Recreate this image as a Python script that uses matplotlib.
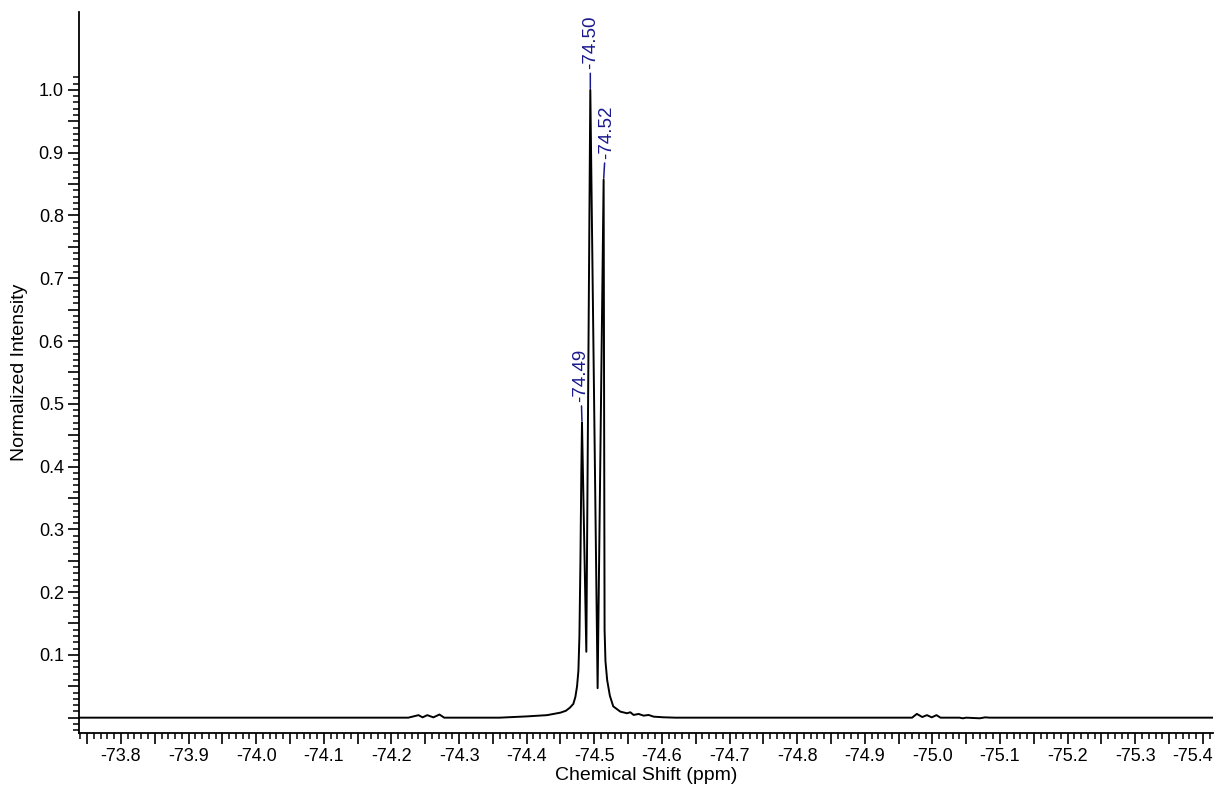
import numpy as np
import matplotlib
matplotlib.use("Agg")
import matplotlib.pyplot as plt
from matplotlib.ticker import MultipleLocator, FixedLocator, FuncFormatter

plt.rcParams['font.family'] = ['Liberation Sans', 'DejaVu Sans']

# === spectrum (ppm, normalized intensity) ===
ppm = [-73.73, -74.225, -74.240, -74.246, -74.253, -74.262, -74.271, -74.278,
       -74.36, -74.40, -74.43, -74.44, -74.450, -74.458, -74.464, -74.469,
       -74.472, -74.4745, -74.4765, -74.478, -74.4795, -74.4808, -74.4818,
       -74.4882, -74.4941, -74.5049, -74.5138, -74.5152, -74.5165, -74.519,
       -74.523, -74.528, -74.5385, -74.5484, -74.5533, -74.5581, -74.5655,
       -74.5729, -74.5803, -74.5877, -74.602, -74.62, -74.97, -74.977,
       -74.985, -74.992, -74.999, -75.006, -75.012, -75.04, -75.045, -75.05,
       -75.07, -75.078, -75.085, -75.42]
intensity = [0.0, 0.0, 0.004, 0.0005, 0.004, 0.0005, 0.005, 0.0,
             0.0, 0.002, 0.004, 0.006, 0.008, 0.011, 0.016, 0.022,
             0.033, 0.05, 0.075, 0.13, 0.25, 0.39, 0.47,
             0.105, 1.0, 0.047, 0.857, 0.14, 0.09, 0.06,
             0.035, 0.018, 0.0096, 0.007, 0.0086, 0.0043, 0.0059,
             0.0032, 0.0043, 0.0016, 0.0006, 0.0, 0.0, 0.006,
             0.001, 0.004, 0.0005, 0.004, 0.0, 0.0, -0.001, 0.0,
             -0.001, 0.0005, 0.0, 0.0]

# picked peaks
peak_labels = ['-74.49', '-74.50', '-74.52']
peak_ppm = [-74.4818, -74.4941, -74.5138]
peak_height = [0.47, 1.0, 0.857]
peak_dx = [-1, 0, 2]   # small sideways nudge of the label text (points)

label_color = '#1a1a8e'
last_tick = -75.4      # edge tick label, pulled inside like the original

fig = plt.figure(figsize=(12.18, 7.89), dpi=100)
ax = fig.add_axes([0.0649, 0.0710, 0.9310, 0.9138])

ax.plot(ppm, intensity, color='black', lw=1.4)

for lab, px, py, dx in zip(peak_labels, peak_ppm, peak_height, peak_dx):
    ax.annotate(lab, xy=(px, py), xytext=(dx, 15), textcoords='offset points',
                rotation=90, ha='center', va='bottom', color=label_color,
                fontsize=13.5,
                arrowprops=dict(arrowstyle='-', color=label_color, lw=1.1,
                                shrinkA=1, shrinkB=1))

ax.set_xlim(-73.738, -75.415)
ax.set_ylim(-0.0244, 1.1241)


def xfmt(v, p):
    if abs(v - last_tick) < 1e-6:
        return ''
    return f'{v:.1f}' if abs(round(v * 10) - v * 10) < 1e-6 else ''


# x ticks: labels every 0.1, medium every 0.05, minor every 0.01
ax.xaxis.set_major_locator(MultipleLocator(0.05))
ax.xaxis.set_minor_locator(MultipleLocator(0.01))
ax.xaxis.set_major_formatter(FuncFormatter(xfmt))

# y ticks: labels 0.1 .. 1.0, medium every 0.05, minor every 0.01
y_major = [round(0.05 * i, 2) for i in range(21)]
y_minor = [round(-0.02 + 0.01 * i, 2) for i in range(105)]
ax.yaxis.set_major_locator(FixedLocator(y_major))
ax.yaxis.set_minor_locator(FixedLocator(y_minor))
ax.yaxis.set_major_formatter(FuncFormatter(
    lambda v, p: f'{v:.1f}' if (abs(round(v * 10) - v * 10) < 1e-6 and v > 0.01) else ''))

ax.tick_params(which='major', length=8, width=1.2, labelsize=13, pad=3,
               direction='out')
ax.tick_params(which='minor', length=4.5, width=1.1, direction='out')

# the last x label sits shifted left so it stays inside the figure
ax.annotate(f'{last_tick:.1f}', xy=(last_tick, 0), xycoords=ax.get_xaxis_transform(),
            xytext=(-7.5, -11), textcoords='offset points',
            ha='center', va='top', fontsize=13)

for side in ['top', 'right']:
    ax.spines[side].set_visible(False)
for side in ['left', 'bottom']:
    ax.spines[side].set_linewidth(1.3)

ax.set_xlabel('Chemical Shift (ppm)', fontsize=14, labelpad=1)
ax.set_ylabel('Normalized Intensity', fontsize=14, labelpad=8)

fig.savefig('out.png', dpi=100)
